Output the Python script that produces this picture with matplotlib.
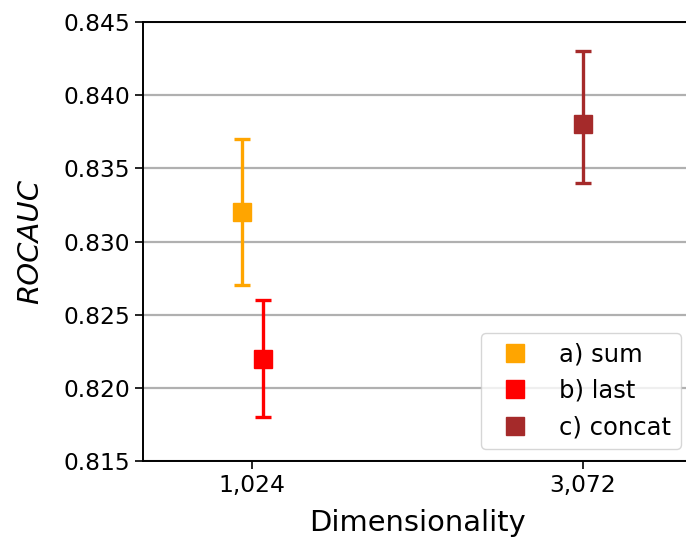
import matplotlib
matplotlib.use("Agg")
import matplotlib.pyplot as plt
import numpy as np

# data
labels = ["a) sum", "b) last", "c) concat"]
x_pos = [960, 1095, 3072]
means = [0.832, 0.822, 0.838]
err_low = [0.005, 0.004, 0.004]
err_high = [0.005, 0.004, 0.005]
colors = ["orange", "red", "brown"]
xticks = [1024, 3072]
xticklabels = ["1,024", "3,072"]
yticks = [0.815, 0.820, 0.825, 0.830, 0.835, 0.840, 0.845]

fig = plt.figure(figsize=(6.86, 5.38), dpi=100)
ax = fig.add_axes([143/686, 77/538, 548/686, 439/538])

for xp, m, lo, hi, c, lab in zip(x_pos, means, err_low, err_high, colors, labels):
    ax.errorbar([xp], [m], yerr=[[lo], [hi]], fmt="s", color=c, markersize=12.5,
                elinewidth=2.4, capsize=5.5, capthick=2.4, label=lab, zorder=3)

ax.set_xlim(350, 3740)
ax.set_ylim(0.815, 0.845)
ax.set_xticks(xticks)
ax.set_xticklabels(xticklabels)
ax.set_yticks(yticks)
ax.set_yticklabels([f"{v:.3f}" for v in yticks])
ax.yaxis.grid(True, color="#b0b0b0", linewidth=1.6, zorder=0)
ax.set_axisbelow(True)
ax.tick_params(labelsize=16.8, length=6, width=1.2)
for s in ax.spines.values():
    s.set_linewidth(1.4)

ax.set_xlabel("Dimensionality", fontsize=20.8)
ax.set_ylabel("ROCAUC", fontsize=21, style="italic")
ax.yaxis.set_label_coords(-0.18, 0.5)
ax.xaxis.set_label_coords(0.5, -0.11)

handles, labs = ax.get_legend_handles_labels()
handles = [h[0] for h in handles]
leg = ax.legend(handles, labs, loc="lower right", fontsize=17.5, numpoints=1,
                bbox_to_anchor=(550/548, 0.0), bbox_transform=ax.transAxes,
                borderaxespad=0.5)

fig.savefig("out.png", dpi=100)
